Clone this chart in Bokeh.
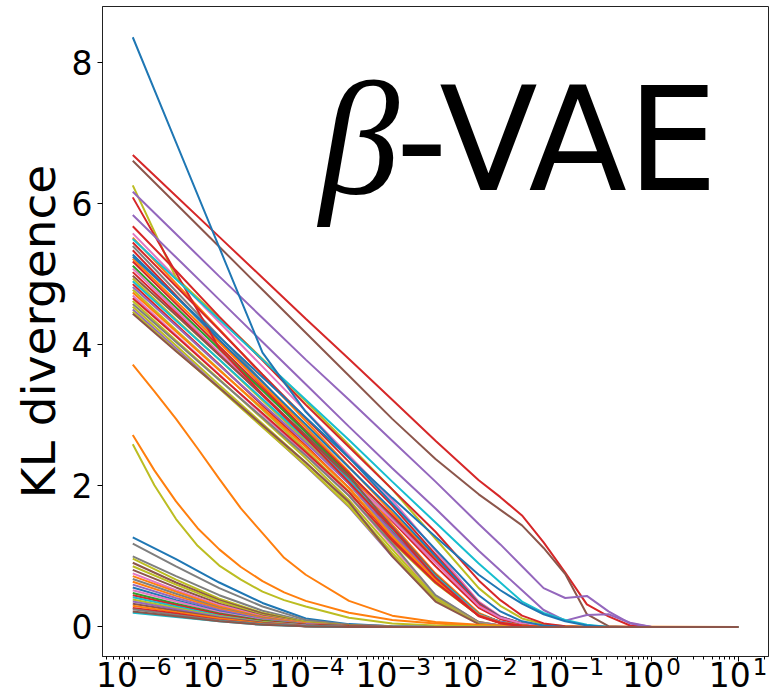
from bokeh.plotting import figure
from bokeh.models import (ColumnDataSource, Range1d, FixedTicker, CustomJSTickFormatter, Label, LogAxis)
from bokeh.embed import file_html
from bokeh.resources import INLINE

# ---- sample positions (decade exponents of beta) for each group of curves ----
exp_top = [-6, -5.5, -5, -4.5, -4, -3.5, -3, -2.5, -2, -1.75, -1.5, -1.25, -1, -0.75, -0.5, -0.25, 0, 1]
exp_bundle = [-6, -5.5, -5, -4.5, -4, -3.5, -3, -2.5, -2, -1.75, -1.5, -1.25, -1, 1]
exp_mid = [-6, -5.75, -5.5, -5.25, -5, -4.75, -4.5, -4.25, -4, -3.5, -3, -2.5, -2, -1.5, 1]
exp_low = [-6, -5.5, -5, -4.5, -4, -3.5, -3, -2.5, -2, 1]

BLUE, ORANGE, GREEN, RED, PURPLE = "#1f77b4", "#ff7f0e", "#2ca02c", "#d62728", "#9467bd"
BROWN, PINK, GRAY, OLIVE, CYAN = "#8c564b", "#e377c2", "#7f7f7f", "#bcbd22", "#17becf"

# ---- main bundle of latent dimensions (KL per dimension) ----
bundle_values = [
    [5.58, 4.95, 4.32, 3.69, 3.06, 2.43, 1.80, 1.08, 0.36, 0.15, 0.05, 0.01, 0, 0],
    [5.52, 4.87, 4.22, 3.57, 2.92, 2.27, 1.62, 0.97, 0.32, 0.14, 0.05, 0.01, 0, 0],
    [5.45, 4.83, 4.21, 3.58, 2.96, 2.34, 1.72, 1.03, 0.34, 0.14, 0.05, 0.01, 0, 0],
    [5.40, 4.76, 4.12, 3.48, 2.83, 2.19, 1.55, 0.93, 0.31, 0.13, 0.05, 0.01, 0, 0],
    [5.34, 4.70, 4.06, 3.42, 2.78, 2.14, 1.50, 0.86, 0.27, 0.11, 0.04, 0.01, 0, 0],
    [5.28, 4.68, 4.07, 3.47, 2.87, 2.26, 1.66, 1.00, 0.33, 0.14, 0.05, 0.01, 0, 0],
    [5.22, 4.62, 4.03, 3.43, 2.83, 2.20, 1.45, 0.76, 0.20, 0.07, 0.02, 0, 0, 0],
    [5.18, 4.58, 3.98, 3.38, 2.78, 2.18, 1.58, 0.95, 0.32, 0.13, 0.05, 0.01, 0, 0],
    [5.12, 4.53, 3.94, 3.35, 2.76, 2.14, 1.40, 0.73, 0.18, 0.07, 0.02, 0, 0, 0],
    [5.08, 4.49, 3.89, 3.30, 2.71, 2.11, 1.52, 0.91, 0.30, 0.13, 0.05, 0.01, 0, 0],
    [5.03, 4.45, 3.86, 3.28, 2.70, 2.09, 1.35, 0.70, 0.18, 0.07, 0.02, 0, 0, 0],
    [4.98, 4.42, 3.85, 3.29, 2.72, 2.13, 1.42, 0.74, 0.18, 0.07, 0.02, 0, 0, 0],
    [4.94, 4.36, 3.79, 3.21, 2.64, 2.03, 1.30, 0.68, 0.17, 0.06, 0.02, 0, 0, 0],
    [4.90, 4.34, 3.79, 3.23, 2.67, 2.08, 1.38, 0.72, 0.18, 0.07, 0.02, 0, 0, 0],
    [4.86, 4.29, 3.72, 3.14, 2.57, 1.97, 1.25, 0.65, 0.16, 0.06, 0.02, 0, 0, 0],
    [4.82, 4.27, 3.71, 3.16, 2.61, 2.03, 1.33, 0.69, 0.17, 0.07, 0.02, 0, 0, 0],
    [4.78, 4.21, 3.65, 3.08, 2.51, 1.92, 1.20, 0.62, 0.16, 0.06, 0.02, 0, 0, 0],
    [4.74, 4.19, 3.64, 3.10, 2.55, 1.97, 1.28, 0.67, 0.17, 0.06, 0.02, 0, 0, 0],
    [4.70, 4.14, 3.58, 3.01, 2.45, 1.86, 1.15, 0.44, 0.07, 0.02, 0, 0, 0, 0],
    [4.66, 4.12, 3.57, 3.03, 2.48, 1.91, 1.22, 0.63, 0.16, 0.06, 0.02, 0, 0, 0],
    [4.62, 4.06, 3.51, 2.95, 2.39, 1.80, 1.10, 0.42, 0.07, 0.02, 0, 0, 0, 0],
    [4.58, 4.04, 3.50, 2.97, 2.43, 1.86, 1.18, 0.45, 0.07, 0.02, 0, 0, 0, 0],
    [4.54, 3.99, 3.43, 2.88, 2.33, 1.75, 1.05, 0.40, 0.06, 0.02, 0, 0, 0, 0],
    [4.50, 3.95, 3.39, 2.84, 2.28, 1.70, 1.00, 0.38, 0.06, 0.02, 0, 0, 0, 0],
    [4.47, 3.92, 3.38, 2.83, 2.29, 1.71, 1.02, 0.38, 0.05, 0.01, 0, 0, 0, 0],
    [4.44, 3.91, 3.39, 2.86, 2.33, 1.77, 1.00, 0.36, 0.04, 0.01, 0, 0, 0, 0],
]
bundle_colors = [PINK, ORANGE, RED, GRAY, RED, BLUE, ORANGE, RED, GREEN, PINK, RED, BROWN, OLIVE,
                 CYAN, RED, PURPLE, OLIVE, ORANGE, PINK, RED, OLIVE, GRAY, OLIVE, PURPLE, OLIVE, BROWN]

# ---- intermediate curves ----
mid_values = [
    [3.72, 3.34, 2.95, 2.53, 2.10, 1.68, 1.33, 0.98, 0.74, 0.37, 0.16, 0.07, 0.03, 0.01, 0],
    [2.72, 2.22, 1.78, 1.40, 1.10, 0.85, 0.65, 0.49, 0.37, 0.20, 0.10, 0.05, 0.02, 0, 0],
    [2.59, 2.01, 1.53, 1.15, 0.87, 0.67, 0.50, 0.38, 0.29, 0.13, 0.05, 0.02, 0.01, 0, 0],
]
mid_colors = [ORANGE, ORANGE, OLIVE]

# ---- distinctive upper curves ----
top_values = [
    [6.69, 6.11, 5.53, 4.95, 4.37, 3.80, 3.22, 2.64, 2.08, 1.84, 1.58, 1.20, 0.77, 0.32, 0.15, 0.02, 0, 0],
    [6.61, 6.00, 5.39, 4.78, 4.17, 3.56, 2.95, 2.38, 1.88, 1.66, 1.44, 1.12, 0.75, 0.18, 0.01, 0, 0, 0],
    [6.26, 4.95, 4.38, 3.80, 3.20, 2.58, 1.95, 1.25, 0.55, 0.30, 0.12, 0.04, 0.01, 0, 0, 0, 0, 0],
    [6.17, 5.57, 4.97, 4.38, 3.79, 3.22, 2.64, 2.06, 1.46, 1.17, 0.86, 0.55, 0.41, 0.44, 0.22, 0.05, 0, 0],
    [6.09, 5.02, 3.95, 3.30, 2.68, 2.05, 1.40, 0.70, 0.15, 0.05, 0.01, 0, 0, 0, 0, 0, 0, 0],
    [5.84, 5.24, 4.64, 4.04, 3.44, 2.84, 2.25, 1.68, 1.08, 0.80, 0.52, 0.24, 0.09, 0.17, 0.18, 0.06, 0, 0],
    [5.68, 5.05, 4.40, 3.78, 3.15, 2.55, 1.95, 1.35, 0.66, 0.38, 0.16, 0.05, 0.01, 0, 0, 0, 0, 0],
    [5.50, 4.93, 4.36, 3.79, 3.22, 2.65, 2.06, 1.48, 0.90, 0.63, 0.36, 0.20, 0.10, 0.03, 0, 0, 0, 0],
    [5.25, 4.68, 4.11, 3.54, 2.97, 2.40, 1.83, 1.28, 0.74, 0.52, 0.33, 0.18, 0.08, 0.02, 0, 0, 0, 0],
    [8.36, 6.87, 5.38, 3.89, 3.05, 2.40, 1.75, 1.10, 0.45, 0.22, 0.08, 0.02, 0, 0, 0, 0, 0, 0],
]
top_colors = [RED, BROWN, OLIVE, PURPLE, RED, PURPLE, RED, CYAN, BLUE, BLUE]

# ---- collapsed / nearly inactive dimensions ----
low_values = [
    [1.27, 0.96, 0.63, 0.34, 0.12, 0.04, 0.01, 0, 0, 0],
    [1.18, 0.86, 0.55, 0.29, 0.10, 0.03, 0.01, 0, 0, 0],
    [1.00, 0.72, 0.45, 0.23, 0.08, 0.03, 0.01, 0, 0, 0],
    [0.97, 0.67, 0.40, 0.20, 0.07, 0.02, 0, 0, 0, 0],
    [0.91, 0.63, 0.38, 0.19, 0.06, 0.02, 0, 0, 0, 0],
    [0.86, 0.60, 0.36, 0.17, 0.06, 0.02, 0, 0, 0, 0],
    [0.81, 0.56, 0.33, 0.16, 0.05, 0.02, 0, 0, 0, 0],
    [0.76, 0.52, 0.31, 0.15, 0.05, 0.01, 0, 0, 0, 0],
    [0.72, 0.50, 0.29, 0.14, 0.05, 0.01, 0, 0, 0, 0],
    [0.68, 0.47, 0.27, 0.13, 0.04, 0.01, 0, 0, 0, 0],
    [0.64, 0.44, 0.26, 0.12, 0.04, 0.01, 0, 0, 0, 0],
    [0.60, 0.41, 0.24, 0.11, 0.04, 0.01, 0, 0, 0, 0],
    [0.56, 0.38, 0.22, 0.10, 0.03, 0.01, 0, 0, 0, 0],
    [0.52, 0.36, 0.21, 0.10, 0.03, 0.01, 0, 0, 0, 0],
    [0.48, 0.33, 0.19, 0.09, 0.03, 0.01, 0, 0, 0, 0],
    [0.45, 0.31, 0.18, 0.08, 0.03, 0.01, 0, 0, 0, 0],
    [0.42, 0.29, 0.16, 0.07, 0.02, 0, 0, 0, 0, 0],
    [0.39, 0.27, 0.15, 0.07, 0.02, 0, 0, 0, 0, 0],
    [0.36, 0.25, 0.14, 0.06, 0.02, 0, 0, 0, 0, 0],
    [0.33, 0.23, 0.13, 0.06, 0.01, 0, 0, 0, 0, 0],
    [0.30, 0.21, 0.12, 0.05, 0.01, 0, 0, 0, 0, 0],
    [0.27, 0.19, 0.10, 0.04, 0.01, 0, 0, 0, 0, 0],
    [0.25, 0.17, 0.09, 0.04, 0.01, 0, 0, 0, 0, 0],
    [0.20, 0.14, 0.08, 0.03, 0.01, 0, 0, 0, 0, 0],
    [0.22, 0.15, 0.08, 0.03, 0.01, 0, 0, 0, 0, 0],
]
low_colors = [BLUE, GRAY, GRAY, OLIVE, BROWN, OLIVE, BROWN, PINK, ORANGE, GRAY, ORANGE, PURPLE, BLUE,
              PINK, GREEN, RED, CYAN, OLIVE, PURPLE, BROWN, ORANGE, RED, GRAY, CYAN, BROWN]

y_ticks = [0, 2, 4, 6, 8]
x_tick_exps = [-6, -5, -4, -3, -2, -1, 0, 1]
y_label = "KL divergence"
title_greek = "β"
title_rest = "-VAE"

Y0, Y1 = -0.419, 8.796

# ---- figure ----
p = figure(width=769, height=698, x_axis_type="log", output_backend="svg", toolbar_location=None,
           x_range=Range1d(10 ** -6.35, 10 ** 1.35), y_range=Range1d(Y0, Y1),
           min_border_left=102, min_border_right=1, min_border_top=6, min_border_bottom=42)
p.background_fill_color = "white"
p.border_fill_color = "white"
p.outline_line_color = "#222222"
p.outline_line_width = 1
p.xgrid.visible = False
p.ygrid.visible = False


def add_group(exps, values, colors):
    xs = [[10 ** e for e in exps] for _ in values]
    src = ColumnDataSource(dict(xs=xs, ys=values, color=colors))
    p.multi_line(xs="xs", ys="ys", line_color="color", line_width=2, source=src)


add_group(exp_bundle, bundle_values, bundle_colors)
add_group(exp_mid, mid_values, mid_colors)
add_group(exp_top, top_values, top_colors)
add_group(exp_low, low_values, low_colors)

# ---- x axis: ticks + exponent labels (nearest the frame) ----
minor = []
for e in range(-7, 2):
    for k in range(2, 10):
        minor.append(k * 10.0 ** e)
major = [10.0 ** e for e in x_tick_exps]
xa = p.xaxis[0]
xa.ticker = FixedTicker(ticks=major, minor_ticks=minor)
xa.formatter = CustomJSTickFormatter(code=r"""
const e = Math.round(Math.log10(tick));
const s = e < 0 ? "\u2212" + String(-e) : String(e);
return "\u2007\u2007\u2007" + s;
""")
xa.major_label_text_font = "DejaVu Sans"
xa.major_label_text_font_size = "23px"
xa.major_label_text_color = "black"
xa.major_label_standoff = -8

# second axis below carrying the "10" mantissas of the tick labels
xb = LogAxis(ticker=FixedTicker(ticks=major, minor_ticks=[]),
             formatter=CustomJSTickFormatter(code=r"""
const e = Math.round(Math.log10(tick));
return e < 0 ? "10\u2007\u2008" : "10\u2008\u2009";
"""))
xb.axis_line_color = None
xb.major_tick_line_color = None
xb.minor_tick_line_color = None
xb.major_tick_out = 0
xb.major_tick_in = 0
xb.minor_tick_out = 0
xb.minor_tick_in = 0
xb.major_label_text_font = "DejaVu Sans"
xb.major_label_text_font_size = "33px"
xb.major_label_text_color = "black"
xb.major_label_standoff = -27
p.add_layout(xb, "below")

for ax in (xa, p.yaxis[0]):
    ax.axis_line_color = "#222222"
    ax.major_tick_line_color = "black"
    ax.minor_tick_line_color = "black"
    ax.major_tick_in = 0
    ax.major_tick_out = 5
    ax.minor_tick_in = 0
    ax.minor_tick_out = 3

p.yaxis.ticker = FixedTicker(ticks=y_ticks, minor_ticks=[])
p.yaxis.major_label_text_font = "DejaVu Sans"
p.yaxis.major_label_text_font_size = "33px"
p.yaxis.major_label_text_color = "black"
p.yaxis.major_label_standoff = 5
p.yaxis.axis_label = y_label
p.yaxis.axis_label_text_font = "DejaVu Sans"
p.yaxis.axis_label_text_font_size = "47px"
p.yaxis.axis_label_text_font_style = "normal"
p.yaxis.axis_label_text_color = "black"
p.yaxis.axis_label_standoff = 3

# big title inside the plot
p.add_layout(Label(x=10 ** -2.92, y=6.92, text=title_greek, text_font="Liberation Serif",
                   text_font_style="italic", text_font_size="160px", text_align="right",
                   text_baseline="alphabetic", text_color="black"))
p.add_layout(Label(x=10 ** -2.96, y=6.90, text=title_rest, text_font="DejaVu Sans",
                   text_font_size="144px", text_align="left", text_baseline="alphabetic",
                   text_color="black"))

open("out.html", "w").write(file_html(p, INLINE))
